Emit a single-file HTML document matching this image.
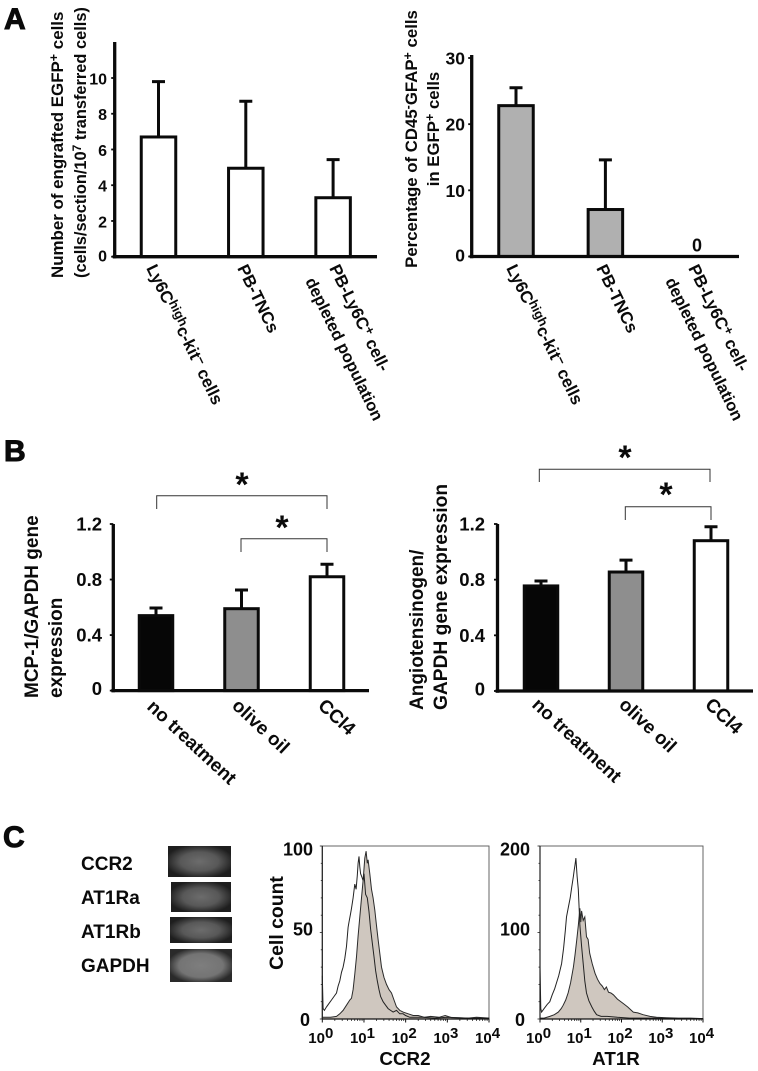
<!DOCTYPE html>
<html lang="en">
<head>
<meta charset="utf-8">
<title>Bar charts and flow cytometry histograms</title>
<style>
html,body{margin:0;padding:0;background:#fff;}
svg{display:block;filter:blur(.3px);}
text{font-family:"Liberation Sans",Arial,sans-serif;font-weight:bold;fill:#0a0a0a;}
.cat{font-size:17px;}
.catd{font-size:16.5px;}
.catb{font-size:18.8px;}
.panel{font-size:30px;stroke:#0a0a0a;stroke-width:1px;}
</style>
</head>
<body>
<svg id="figure" xmlns="http://www.w3.org/2000/svg" width="758" height="1071" viewBox="0 0 758 1071">
  <defs>
    <radialGradient id="gel-a" cx="50%" cy="50%" r="55%"><stop offset="0" stop-color="#6c6c6c"/><stop offset=".55" stop-color="#585858"/><stop offset="1" stop-color="#1e1e1e"/></radialGradient>
    <radialGradient id="gel-b" cx="50%" cy="50%" r="55%"><stop offset="0" stop-color="#7e7e7e"/><stop offset=".65" stop-color="#747474"/><stop offset="1" stop-color="#2a2a2a"/></radialGradient>
  </defs>

  <text class="panel" x="4" y="29">A</text>
  <text class="panel" x="4" y="461">B</text>
  <text class="panel" x="3" y="847">C</text>

  <!-- Panel A titles -->
  <text transform="translate(63,278) rotate(-90)" font-size="16.9">Number of engrafted EGFP<tspan dy="-5" font-size="12.5">+</tspan><tspan dy="5"> cells</tspan></text>
  <text transform="translate(86,278) rotate(-90)" font-size="16.4">(cells/section/10<tspan dy="-5" font-size="12">7</tspan><tspan dy="5"> transferred cells)</tspan></text>
  <text transform="translate(417,139) rotate(-90)" text-anchor="middle" font-size="16.8">Percentage of CD45<tspan dy="-5" font-size="12.5">-</tspan><tspan dy="5">GFAP</tspan><tspan dy="-5" font-size="12.5">+</tspan><tspan dy="5"> cells</tspan></text>
  <text transform="translate(439,129) rotate(-90)" text-anchor="middle" font-size="16.8">in EGFP<tspan dy="-5" font-size="12.5">+</tspan><tspan dy="5"> cells</tspan></text>

  <!-- Panel A category labels -->
  <text class="cat" transform="translate(146,268) rotate(64)">Ly6C<tspan dy="-5" font-size="13">high</tspan><tspan dy="5">c-kit</tspan><tspan dy="-5" font-size="13">−</tspan><tspan dy="5"> cells</tspan></text>
  <text class="cat" transform="translate(237,268) rotate(64)">PB-TNCs</text>
  <text class="cat" transform="translate(329,268) rotate(64)">PB-Ly6C<tspan dy="-5" font-size="13">+</tspan><tspan dy="5"> cell-</tspan></text>
  <text class="catd" transform="translate(305,281) rotate(64)">depleted population</text>
  <text class="cat" transform="translate(506,268) rotate(64)">Ly6C<tspan dy="-5" font-size="13">high</tspan><tspan dy="5">c-kit</tspan><tspan dy="-5" font-size="13">−</tspan><tspan dy="5"> cells</tspan></text>
  <text class="cat" transform="translate(596,268) rotate(64)">PB-TNCs</text>
  <text class="cat" transform="translate(688,268) rotate(64)">PB-Ly6C<tspan dy="-5" font-size="13">+</tspan><tspan dy="5"> cell-</tspan></text>
  <text class="catd" transform="translate(665,281) rotate(64)">depleted population</text>

  <!-- Panel B titles -->
  <text transform="translate(38,698) rotate(-90)" font-size="19">MCP-1/GAPDH gene</text>
  <text transform="translate(62,698) rotate(-90)" font-size="19">expression</text>
  <text transform="translate(423,710) rotate(-90)" font-size="19">Angiotensinogen/</text>
  <text transform="translate(447,710) rotate(-90)" font-size="19.2">GAPDH gene expression</text>

  <!-- Panel B category labels -->
  <text class="catb" transform="translate(146,708) rotate(43)">no treatment</text>
  <text class="catb" transform="translate(231,707) rotate(43)">olive oil</text>
  <text class="catb" transform="translate(317,707) rotate(43)">CCl4</text>
  <text class="catb" transform="translate(531,706) rotate(43)">no treatment</text>
  <text class="catb" transform="translate(618,706) rotate(43)">olive oil</text>
  <text class="catb" transform="translate(704,706) rotate(43)">CCl4</text>

  <!-- Significance brackets -->
  <g fill="none" stroke="#333" stroke-width="1">
    <path d="M156.7 509V495.7H327V509"/>
    <path d="M241 552V538.7H327V552"/>
    <path d="M539.3 482V469.3H710V482"/>
    <path d="M625.3 520V506.7H711V520"/>
  </g>
  <g font-size="34" text-anchor="middle">
    <text x="242" y="496">*</text>
    <text x="282" y="539">*</text>
    <text x="625" y="469">*</text>
    <text x="666" y="506">*</text>
  </g>

  <!-- Panel C gel -->
  <g font-size="19">
    <text x="81" y="870">CCR2</text>
    <text x="81" y="904">AT1Ra</text>
    <text x="81" y="938">AT1Rb</text>
    <text x="81" y="972">GAPDH</text>
  </g>
  <rect x="168" y="846" width="63" height="31" fill="url(#gel-a)"/>
  <rect x="171" y="882" width="60" height="30" fill="url(#gel-a)"/>
  <rect x="170" y="917" width="62" height="26" fill="url(#gel-a)"/>
  <rect x="170" y="949" width="62" height="33" fill="url(#gel-b)"/>

  <text transform="translate(283,923) rotate(-90)" text-anchor="middle" font-size="19.4">Cell count</text>
  <text x="405" y="1065" text-anchor="middle" font-size="18.8">CCR2</text>
  <text x="616" y="1065" text-anchor="middle" font-size="18.8">AT1R</text>

  <g id="charts"></g>
</svg>

<script>
// Panel A, left
var a1Values = [6.7, 4.95, 3.3];
var a1Errors = [3.1, 3.75, 2.13];
var a1Ticks = [0, 2, 4, 6, 8, 10];
// Panel A, right
var a2Values = [22.8, 7.1, 0];
var a2Errors = [2.7, 7.5, 0];
var a2Ticks = [0, 10, 20, 30];
var a2PrintedZero = ['0'];
// Panel B, left
var b1Values = [0.54, 0.59, 0.82];
var b1Errors = [0.055, 0.135, 0.09];
var b1Ticks = [0, 0.4, 0.8, 1.2];
var b1TickLabels = ['0', '0.4', '0.8', '1.2'];
// Panel B, right
var b2Values = [0.755, 0.855, 1.08];
var b2Errors = [0.035, 0.085, 0.1];
var b2Ticks = [0, 0.4, 0.8, 1.2];
var b2TickLabels = ['0', '0.4', '0.8', '1.2'];
// Panel B bar fills
var bFills = ['#060606', '#8e8e8e', '#ffffff'];

// Panel C histograms (log10 fluorescence, cell count)
var ccr2OpenLog = [0,0.02,0.05,0.1,0.16,0.22,0.28,0.34,0.38,0.42,0.46,0.5,0.54,0.58,0.62,0.64,0.68,0.7,0.74,0.78,0.81,0.84,0.86,0.88,0.9,0.92,0.95,0.98,1.0,1.04,1.08,1.12,1.16,1.2,1.24,1.28,1.32,1.36,1.4,1.46,1.52,1.58,1.64,1.7,1.78,1.86,1.94,2,2.1,2.2,2.4,2.7,3,3.5,4];
var ccr2OpenCount = [25,6,5,7,9,11,13,15,19,22,27,30,35,42,53,56,61,64,70,78,75,83,90,94,88,84,82,80,84,72,70,62,52,44,36,28,22,17,13,10,8,6,5,4,5,3,3,2,1,1,1,0.5,1,0.5,0.5];
var ccr2ShadedLog = [0,0.1,0.2,0.34,0.42,0.5,0.58,0.66,0.7,0.74,0.78,0.82,0.86,0.9,0.94,0.98,1.02,1.05,1.08,1.1,1.14,1.18,1.22,1.26,1.3,1.34,1.38,1.42,1.48,1.54,1.6,1.66,1.72,1.78,1.86,1.94,2.06,2.18,2.3,2.45,2.6,2.8,2.95,3.1,3.5,3.7,4];
var ccr2ShadedCount = [1,1,1,1.5,3,5,8,11,12,17,26,36,48,59,70,80,93,97,90,92,84,75,70,63,54,46,38,30,24,20,17,15,11,7,5,4,3,2,2,1,1.5,1,2,0.8,0.5,1,0.5];
var at1rOpenLog = [0,0.02,0.04,0.1,0.18,0.24,0.3,0.36,0.4,0.46,0.53,0.58,0.62,0.65,0.7,0.74,0.78,0.82,0.84,0.86,0.88,0.91,0.94,0.98,1.02,1.06,1.1,1.14,1.2,1.27,1.33,1.39,1.5,1.65,1.9,2.2,2.6,3,3.5,4];
var at1rOpenCount = [60,12,8,12,17,20,28,35,41,50,64,82,102,118,130,140,153,165,172,178,186,165,150,108,84,64,44,30,21,14,9,5,3,3,2,1,1,1,0.5,0.5];
var at1rShadedLog = [0,0.1,0.24,0.35,0.45,0.52,0.57,0.63,0.69,0.75,0.82,0.86,0.9,0.94,0.98,1.0,1.02,1.06,1.1,1.14,1.18,1.22,1.28,1.35,1.41,1.47,1.53,1.58,1.63,1.68,1.74,1.8,1.9,2.04,2.15,2.29,2.4,2.53,2.7,2.86,3.1,3.4,3.7,4];
var at1rShadedCount = [1,1,3,5,8,12,16,22,30,42,60,74,91,108,128,112,125,114,118,95,92,76,64,53,46,41,38,34,37,31,30,28,23,18,14,8,7,5,3,2,1.5,1,1,0.5];
var ccr2YTicks = [0, 50, 100];
var at1rYTicks = [0, 100, 200];
var logDecades = [0, 1, 2, 3, 4];

var NS = 'http://www.w3.org/2000/svg';
var root = document.getElementById('charts');

function make(tag, attrs, parent) {
  var n = document.createElementNS(NS, tag);
  for (var k in attrs) n.setAttribute(k, attrs[k]);
  (parent || root).appendChild(n);
  return n;
}

function linearScale(d0, d1, r0, r1) {
  return function (v) { return r0 + (v - d0) / (d1 - d0) * (r1 - r0); };
}

function drawBarChart(prefix, o, values, errors, ticks, labels, fills) {
  var y = linearScale(0, o.topValue, o.y0, o.yTop);
  var bx = function (i) { return o.firstCenter + i * o.step; };

  values.forEach(function (v, i) {
    if (v <= 0) return;
    var err = make('path', { d: 'M' + bx(i) + ' ' + y(v) + 'V' + y(v + errors[i]) + 'M' + (bx(i) - 6.5) + ' ' + y(v + errors[i]) + 'H' + (bx(i) + 6.5), fill: 'none', stroke: '#0a0a0a', 'stroke-width': o.errWidth });
    
    
    var bar = make('rect', { x: bx(i) - o.barWidth / 2, y: y(v), width: o.barWidth, height: o.y0 - y(v), fill: fills[i], stroke: '#0a0a0a', 'stroke-width': 3 });
    
    
  });

  var yAxis = make('line', { x1: o.axisX, x2: o.axisX, y1: o.axisTop, y2: o.y0 + 1.7, stroke: '#0a0a0a', 'stroke-width': 3.3 });
  
  
  var xAxis = make('line', { x1: o.axisX - 2, x2: o.axisEnd, y1: o.y0, y2: o.y0, stroke: '#0a0a0a', 'stroke-width': 3.3 });
  
  

  ticks.forEach(function (t, i) {
    var mark = make('line', { x1: o.axisX - 3.5, x2: o.axisX, y1: y(t), y2: y(t), stroke: '#0a0a0a', 'stroke-width': 1.8 });
    
    
    var label = make('text', { x: o.labelX, y: y(t) + o.labelDy - (t === 0 ? o.zeroLift : 0), 'text-anchor': 'end', 'font-size': o.tickFont });
    label.textContent = labels[i];
    
    
  });
}

function drawHistogram(prefix, o, openLog, openCount, shadedLog, shadedCount, yTicks) {
  var x = linearScale(0, 4, o.x0, o.x1);
  var y = linearScale(0, o.yMax, o.yBottom, o.yTop);

  var pts = function (lx, cnt) {
    return lx.map(function (v, i) { return x(v).toFixed(1) + ' ' + y(cnt[i]).toFixed(1); });
  };

  var frame = make('rect', { x: o.x0, y: o.yTop, width: o.x1 - o.x0, height: o.yBottom - o.yTop, fill: '#fff', stroke: '#555', 'stroke-width': 0.9 });
  
  

  var shaded = make('path', { d: 'M' + x(0) + ' ' + y(0) + 'L' + pts(shadedLog, shadedCount).join('L') + 'L' + x(4) + ' ' + y(0) + 'Z', fill: '#cfc7bf', stroke: '#2a2a2a', 'stroke-width': 1 });
  
  

  var open = make('path', { d: 'M' + pts(openLog, openCount).join('L'), fill: 'none', stroke: '#222', 'stroke-width': 1 });
  
  

  var base = make('line', { x1: o.x0, x2: o.x1, y1: o.yBottom, y2: o.yBottom, stroke: '#111', 'stroke-width': 1.3 });
  
  
  var left = make('line', { x1: o.x0, x2: o.x0, y1: o.yTop, y2: o.yBottom, stroke: '#222', 'stroke-width': 1.2 });
  
  

  logDecades.forEach(function (d) {
    var major = make('line', { x1: x(d), x2: x(d), y1: o.yBottom, y2: o.yBottom + 3.5, stroke: '#111', 'stroke-width': 1 });
    
    
    if (d < 4) {
      for (var m = 2; m < 10; m++) {
        var minor = make('line', { x1: x(d + Math.log10(m)), x2: x(d + Math.log10(m)), y1: o.yBottom, y2: o.yBottom + 2, stroke: '#111', 'stroke-width': 0.7 });
        
        
      }
    }
    var lab = make('text', { x: x(d) - 14, y: 1043, 'font-size': 15 });
    
    
    var base10 = make('tspan', {}, lab);
    base10.textContent = '10';
    var sup = make('tspan', { dy: -5, 'font-size': 15 }, lab);
    sup.textContent = String(d);
  });

  for (var i = 0; i <= 10; i++) {
    var v = o.yMax * i / 10;
    var tick = make('line', { x1: o.x0 - (i % 5 === 0 ? 2.5 : 1.5), x2: o.x0, y1: y(v), y2: y(v), stroke: '#222', 'stroke-width': 0.8 });
    
    
  }

  yTicks.forEach(function (t) {
    var lab = make('text', { x: t === 0 ? o.zeroRight : o.labelRight, y: t === 0 ? 1026 : (t === o.yMax ? 855.5 : 935.5), 'text-anchor': 'end', 'font-size': 18 });
    lab.textContent = String(t);
    
    
  });
}

var whiteFills = ['#ffffff', '#ffffff', '#ffffff'];
var greyFills = ['#b0b0b0', '#b0b0b0', '#b0b0b0'];

drawBarChart('a1', { y0: 256.7, yTop: 78, topValue: 10, axisX: 114.7, axisTop: 42, axisEnd: 377, firstCenter: 158.5, step: 87.3, barWidth: 34.5, errWidth: 3, labelX: 107, labelDy: 6.5, zeroLift: 1.5, tickFont: 16 }, a1Values, a1Errors, a1Ticks, a1Ticks.map(String), whiteFills);
drawBarChart('a2', { y0: 256.5, yTop: 58, topValue: 30, axisX: 471.7, axisTop: 55, axisEnd: 739, firstCenter: 516, step: 89.4, barWidth: 34.5, errWidth: 3, labelX: 465, labelDy: 6.5, zeroLift: 1.5, tickFont: 17.5 }, a2Values, a2Errors, a2Ticks, a2Ticks.map(String), greyFills);
drawBarChart('b1', { y0: 690.6, yTop: 524, topValue: 1.2, axisX: 113.3, axisTop: 524, axisEnd: 369, firstCenter: 156, step: 85.5, barWidth: 33.5, errWidth: 3, labelX: 102, labelDy: 6.5, zeroLift: 2, tickFont: 18.5 }, b1Values, b1Errors, b1Ticks, b1TickLabels, bFills);
drawBarChart('b2', { y0: 691, yTop: 524, topValue: 1.2, axisX: 497.5, axisTop: 524, axisEnd: 753, firstCenter: 541, step: 85, barWidth: 33.5, errWidth: 3, labelX: 485, labelDy: 6.5, zeroLift: 2, tickFont: 18.5 }, b2Values, b2Errors, b2Ticks, b2TickLabels, bFills);

var zeroLabel = make('text', { x: 697, y: 251.5, 'text-anchor': 'middle', 'font-size': 18 });
zeroLabel.textContent = a2PrintedZero[0];



drawHistogram('ccr2', { x0: 322.3, x1: 489, yTop: 846, yBottom: 1019, yMax: 100, labelRight: 313, zeroRight: 310 }, ccr2OpenLog, ccr2OpenCount, ccr2ShadedLog, ccr2ShadedCount, ccr2YTicks);
drawHistogram('at1r', { x0: 540, x1: 703, yTop: 846, yBottom: 1019, yMax: 200, labelRight: 530, zeroRight: 525 }, at1rOpenLog, at1rOpenCount, at1rShadedLog, at1rShadedCount, at1rYTicks);
</script>
</body>
</html>
